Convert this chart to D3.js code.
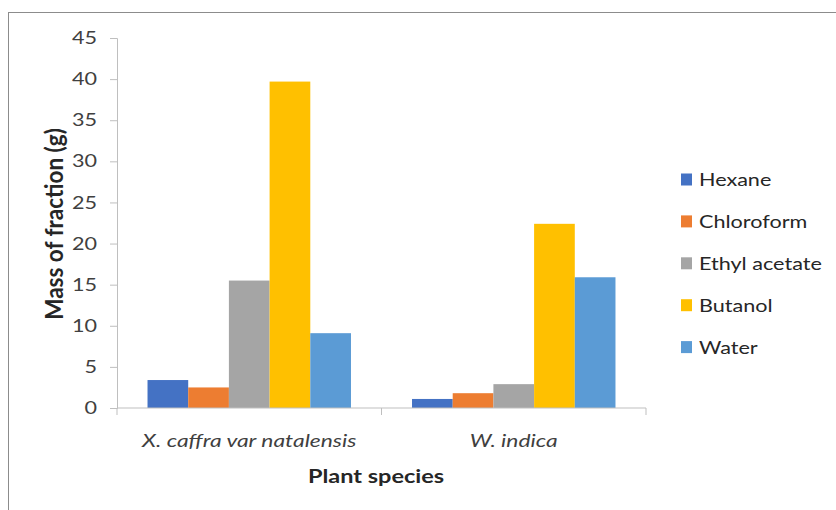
<!DOCTYPE html>
<html>
<head>
<meta charset="utf-8">
<script src="https://cdnjs.cloudflare.com/ajax/libs/d3/7.8.5/d3.min.js"></script>
<style>
  body { margin: 0; background: #fff; }
  text { font-family: Lato, "Open Sans", sans-serif; fill: #262626; }
</style>
</head>
<body>
<script>
// chart data
var species = ["X. caffra var natalensis", "W. indica"];
var fractions = ["Hexane", "Chloroform", "Ethyl acetate", "Butanol", "Water"];
var colors = ["#4472c4", "#ed7d31", "#a5a5a5", "#ffc000", "#5b9bd5"];
var hexane = [3.4, 1.1];
var chloroform = [2.5, 1.8];
var ethylAcetate = [15.5, 2.9];
var butanol = [39.7, 22.4];
var water = [9.1, 15.9];
var yTicks = [0, 5, 10, 15, 20, 25, 30, 35, 40, 45];

var seriesValues = [hexane, chloroform, ethylAcetate, butanol, water];

// the original picture is stretched sideways, text gets the same stretch
var stretch = 1.27;

var width = 836, height = 510;
var plot = {left: 117, right: 646, top: 38, bottom: 408};

var svg = d3.select("body").append("svg")
    .attr("width", width)
    .attr("height", height);

// outer frame
svg.append("rect")
    .attr("x", 8.5).attr("y", 12.5)
    .attr("width", 900).attr("height", 600)
    .attr("fill", "none")
    .attr("stroke", "#8c8c8c");

var x0 = d3.scaleBand()
    .domain(species)
    .range([plot.left, plot.right]);

// gap width 150%
var x1 = d3.scaleBand()
    .domain(fractions)
    .range([0, x0.bandwidth()])
    .paddingInner(0)
    .paddingOuter(0.75);

var y = d3.scaleLinear()
    .domain([0, 45])
    .range([plot.bottom, plot.top]);

// bars
var groups = svg.selectAll(".group")
    .data(species)
  .enter().append("g")
    .attr("class", "group")
    .attr("transform", function(d) { return "translate(" + x0(d) + ",0)"; });

groups.selectAll("rect")
    .data(function(d, i) {
      return fractions.map(function(f, j) {
        return {fraction: f, value: seriesValues[j][i], color: colors[j]};
      });
    })
  .enter().append("rect")
    .attr("x", function(d) { return x1(d.fraction); })
    .attr("width", x1.bandwidth())
    .attr("y", function(d) { return y(d.value); })
    .attr("height", function(d) { return plot.bottom - y(d.value); })
    .attr("fill", function(d) { return d.color; });

// y axis (labels drawn by hand so they can be stretched)
var yAxis = svg.append("g")
    .attr("transform", "translate(" + plot.left + ",0)")
    .call(d3.axisLeft(y).tickValues(yTicks).tickSize(7).tickFormat(""));
yAxis.selectAll("line, path").attr("stroke", "#bfbfbf");

svg.selectAll(".ylabel")
    .data(yTicks)
  .enter().append("text")
    .attr("class", "ylabel")
    .attr("transform", function(d) { return "translate(97," + y(d) + ") scale(" + stretch + ",1)"; })
    .attr("dy", "0.36em")
    .attr("text-anchor", "end")
    .style("font-size", "17px")
    .style("fill", "#404040")
    .text(function(d) { return d; });

// x axis with ticks between categories
var xAxis = svg.append("g")
    .attr("transform", "translate(0," + plot.bottom + ")");
xAxis.append("line")
    .attr("x1", plot.left).attr("x2", plot.right)
    .attr("stroke", "#bfbfbf");
var bounds = [plot.left].concat(species.map(function(d) { return x0(d) + x0.bandwidth(); }));
xAxis.selectAll(".tick")
    .data(bounds)
  .enter().append("line")
    .attr("x1", function(d) { return d; })
    .attr("x2", function(d) { return d; })
    .attr("y1", 0).attr("y2", 7)
    .attr("stroke", "#bfbfbf");

svg.selectAll(".cat")
    .data(species)
  .enter().append("text")
    .attr("class", "cat")
    .attr("transform", function(d) {
      return "translate(" + (x0(d) + x0.bandwidth() / 2) + ",447) scale(" + stretch + ",1)";
    })
    .attr("text-anchor", "middle")
    .style("font-size", "18px")
    .style("font-style", "italic")
    .style("fill", "#404040")
    .text(function(d) { return d; });

// axis titles
svg.append("text")
    .attr("transform", "translate(376,483) scale(" + stretch + ",1)")
    .attr("text-anchor", "middle")
    .style("font-size", "18.5px")
    .style("font-weight", "bold")
    .text("Plant species");

svg.append("text")
    .attr("transform", "translate(63,224) scale(1.12,1) rotate(-90)")
    .attr("text-anchor", "middle")
    .style("font-size", "22.5px")
    .style("font-weight", "bold")
    .text("Mass of fraction (g)");

// legend
var legend = svg.selectAll(".legend")
    .data(fractions)
  .enter().append("g")
    .attr("class", "legend")
    .attr("transform", function(d, i) { return "translate(681," + (179.5 + i * 41.9) + ")"; });

legend.append("rect")
    .attr("x", 0).attr("y", -6)
    .attr("width", 11).attr("height", 12)
    .attr("fill", function(d, i) { return colors[i]; });

legend.append("text")
    .attr("transform", "translate(18,6.5) scale(" + stretch + ",1)")
    .style("font-size", "17px")
    .text(function(d) { return d; });
</script>
</body>
</html>
